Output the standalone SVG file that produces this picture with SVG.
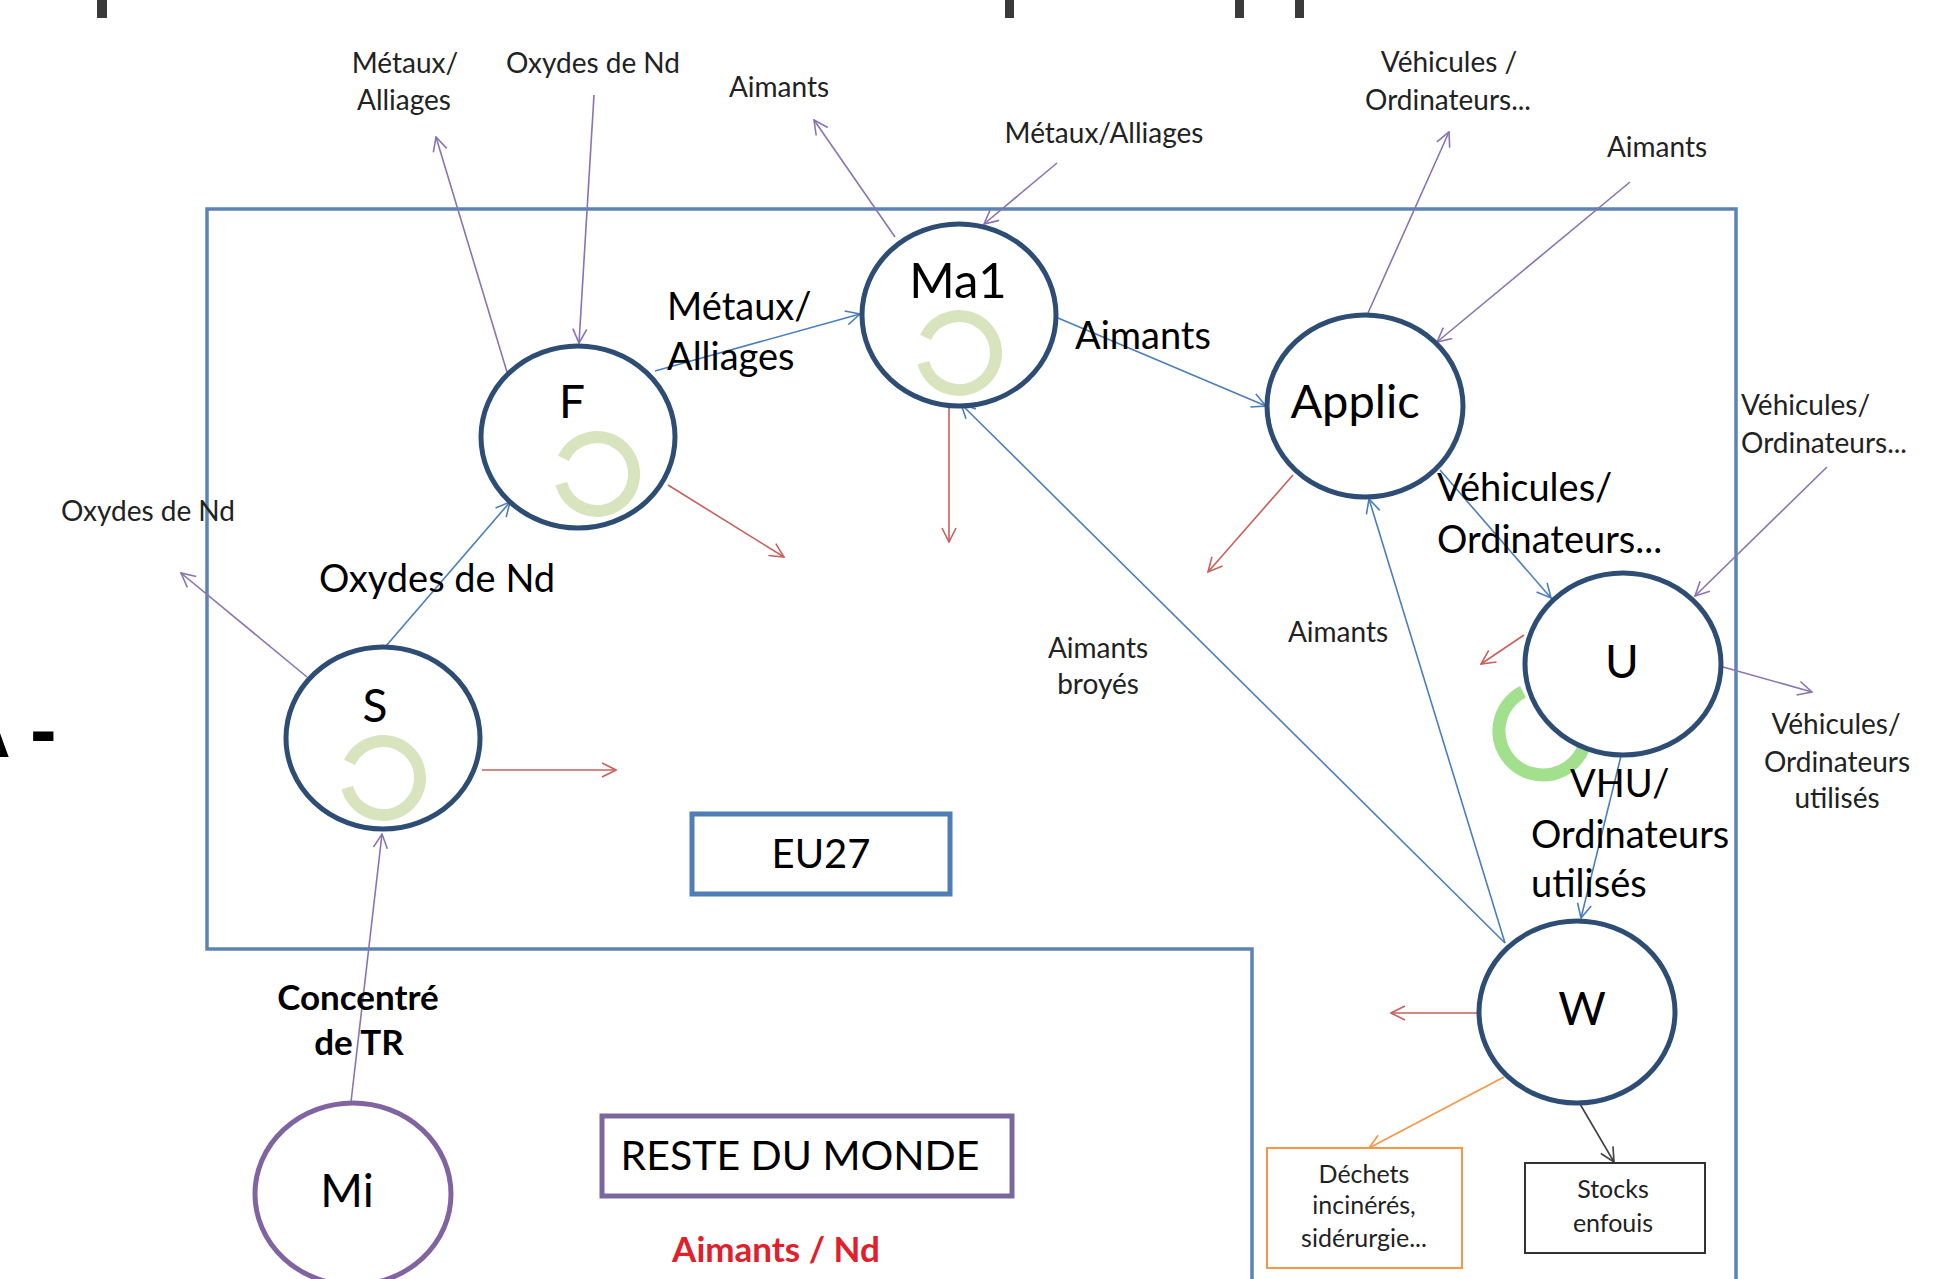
<svg xmlns="http://www.w3.org/2000/svg" width="1960" height="1279" viewBox="0 0 1960 1279">
<defs>
<style>
.node{fill:#fff;stroke:#2e4d74;stroke-width:5}
.mi{fill:#fff;stroke:#8064a2;stroke-width:5}
.lbl{font-family:Lato,"Open Sans",sans-serif;fill:#000}
.big{font-size:38px}
.nl{font-size:46px}
.sm{font-size:28px;fill:#222}
.xs{font-size:25px;fill:#222}
.c{text-anchor:middle}
.cb{fill:none;stroke:#4a7ebb;stroke-width:1.6;marker-end:url(#ab)}
.cp{fill:none;stroke:#8a74b0;stroke-width:1.6;marker-end:url(#ap)}
.cr{fill:none;stroke:#c8605c;stroke-width:1.6;marker-end:url(#ar)}
.co{fill:none;stroke:#f79646;stroke-width:1.6;marker-end:url(#ao)}
.cg{fill:none;stroke:#404040;stroke-width:1.6;marker-end:url(#ag)}
.loop{fill:none;stroke:#d7e4bd;stroke-width:12}
</style>
<marker id="ab" viewBox="0 0 16 16" refX="15" refY="8" markerWidth="16" markerHeight="16" markerUnits="userSpaceOnUse" orient="auto"><path d="M1,1 L15,8 L1,15" fill="none" stroke="#4a7ebb" stroke-width="1.6"/></marker>
<marker id="ap" viewBox="0 0 16 16" refX="15" refY="8" markerWidth="16" markerHeight="16" markerUnits="userSpaceOnUse" orient="auto"><path d="M1,1 L15,8 L1,15" fill="none" stroke="#8a74b0" stroke-width="1.6"/></marker>
<marker id="ar" viewBox="0 0 16 16" refX="15" refY="8" markerWidth="16" markerHeight="16" markerUnits="userSpaceOnUse" orient="auto"><path d="M1,1 L15,8 L1,15" fill="none" stroke="#c8605c" stroke-width="1.6"/></marker>
<marker id="ao" viewBox="0 0 16 16" refX="15" refY="8" markerWidth="16" markerHeight="16" markerUnits="userSpaceOnUse" orient="auto"><path d="M1,1 L15,8 L1,15" fill="none" stroke="#f79646" stroke-width="1.6"/></marker>
<marker id="ag" viewBox="0 0 16 16" refX="15" refY="8" markerWidth="16" markerHeight="16" markerUnits="userSpaceOnUse" orient="auto"><path d="M1,1 L15,8 L1,15" fill="none" stroke="#404040" stroke-width="1.6"/></marker>
</defs>
<rect width="1960" height="1279" fill="#fff"/>

<!-- cropped fragments -->
<g id="fragments" fill="#3a3a3a">
<rect x="97" y="0" width="10" height="18"/>
<rect x="1005" y="0" width="9" height="18"/>
<rect x="1235" y="0" width="9" height="18"/>
<rect x="1295" y="0" width="9" height="18"/>
<text x="-47" y="757" font-family="Liberation Sans,sans-serif" font-weight="bold" font-size="80" fill="#000">A -</text>
</g>

<!-- region boundaries -->
<g id="regions">
<path d="M1252,1282 L1252,949 L207,949 L207,209 L1736,209 L1736,1282" fill="none" stroke="#5b84b4" stroke-width="3.5"/>
<g id="eu27"><rect x="692" y="814" width="258" height="80" fill="#fff" stroke="#4f7db5" stroke-width="5"/>
<text class="lbl c" x="821" y="868" font-size="40">EU27</text></g>
<g id="rdm"><rect x="602" y="1116" width="410" height="80" fill="#fff" stroke="#7c66a0" stroke-width="5"/>
<text class="lbl c" x="800" y="1170" font-size="41">RESTE DU MONDE</text></g>
<text class="lbl c" x="776" y="1262" font-size="35" font-weight="bold" style="fill:#e0202a">Aimants / Nd</text>
</g>

<!-- U loop behind U node -->
<path d="M1584,746.8 A44,44 0 1 1 1523,691.8" fill="none" stroke="#a3e08d" stroke-width="13"/>

<!-- connectors -->
<g id="connectors">
<line class="cp" x1="351" y1="1102" x2="382" y2="834"/>
<line class="cp" x1="307" y1="677" x2="181" y2="573"/>
<line class="cb" x1="386" y1="646" x2="510" y2="502"/>
<line class="cr" x1="482" y1="770" x2="616" y2="770"/>
<line class="cp" x1="507" y1="372" x2="436" y2="137"/>
<line class="cp" x1="594" y1="95" x2="579" y2="343"/>
<line class="cb" x1="655" y1="371" x2="860" y2="314"/>
<line class="cr" x1="668" y1="485" x2="784" y2="557"/>
<line class="cp" x1="895" y1="237" x2="814" y2="120"/>
<line class="cp" x1="1057" y1="163" x2="984" y2="224"/>
<line class="cr" x1="949" y1="408" x2="949" y2="542"/>
<line class="cb" x1="1058" y1="318" x2="1266" y2="406"/>
<line class="cp" x1="1368" y1="313" x2="1449" y2="132"/>
<line class="cp" x1="1630" y1="182" x2="1437" y2="342"/>
<line class="cr" x1="1293" y1="475" x2="1208" y2="572"/>
<line class="cb" x1="1440" y1="470" x2="1551" y2="598"/>
<line class="cp" x1="1827" y1="467" x2="1695" y2="596"/>
<line class="cr" x1="1524" y1="635" x2="1481" y2="664"/>
<line class="cp" x1="1723" y1="667" x2="1812" y2="692"/>
<line class="cb" x1="1621" y1="756" x2="1581" y2="918"/>
<line class="cb" x1="1505" y1="943" x2="961" y2="404"/>
<line class="cb" x1="1505" y1="943" x2="1369" y2="499"/>
<line class="cr" x1="1478" y1="1013" x2="1391" y2="1013"/>
<line class="co" x1="1504" y1="1077" x2="1369" y2="1148"/>
<line class="cg" x1="1580" y1="1104" x2="1614" y2="1162"/>
</g>

<!-- nodes -->
<g id="node-S"><ellipse class="node" cx="383" cy="738" rx="97" ry="91"/>
<path class="loop" d="M349.5,762.4 A37,37 0 1 1 347.3,787.6"/>
<text class="lbl nl c" x="375" y="722">S</text></g>
<g id="node-F"><ellipse class="node" cx="578" cy="437" rx="97" ry="91"/>
<path class="loop" d="M563.5,458.4 A37,37 0 1 1 561.3,483.6"/>
<text class="lbl nl c" x="572" y="418">F</text></g>
<g id="node-Ma1"><ellipse class="node" cx="959" cy="315" rx="97" ry="91"/>
<path class="loop" d="M925.5,337.4 A37,37 0 1 1 923.3,362.6"/>
<text class="lbl c" x="958" y="298" font-size="49">Ma1</text></g>
<g id="node-Applic"><ellipse class="node" cx="1365" cy="406" rx="98" ry="91"/>
<text class="lbl c" x="1355" y="418" font-size="47">Applic</text></g>
<g id="node-U"><ellipse class="node" cx="1623" cy="664" rx="98" ry="91"/>
<text class="lbl c" x="1622" y="678" font-size="46">U</text></g>
<g id="node-W"><ellipse class="node" cx="1577" cy="1012" rx="98" ry="91"/>
<text class="lbl c" x="1582" y="1025" font-size="46">W</text></g>
<g id="node-Mi"><ellipse class="mi" cx="353" cy="1194" rx="98" ry="91"/>
<text class="lbl c" x="347" y="1207" font-size="46">Mi</text></g>
<g id="node-dechets"><rect x="1267" y="1148" width="195" height="120" fill="#fff" stroke="#f79646" stroke-width="2"/>
<text class="lbl xs c" x="1364" y="1183">Déchets</text>
<text class="lbl xs c" x="1364" y="1214">incinérés,</text>
<text class="lbl xs c" x="1364" y="1247">sidérurgie...</text></g>
<g id="node-stocks"><rect x="1525" y="1163" width="180" height="90" fill="#fff" stroke="#333" stroke-width="2"/>
<text class="lbl xs c" x="1613" y="1198">Stocks</text>
<text class="lbl xs c" x="1613" y="1232">enfouis</text></g>

<!-- labels -->
<g id="labels">
<text class="lbl sm c" x="405" y="73">Métaux/</text>
<text class="lbl sm c" x="404" y="110">Alliages</text>
<text class="lbl sm c" x="593" y="73">Oxydes de Nd</text>
<text class="lbl sm c" x="779" y="97">Aimants</text>
<text class="lbl sm c" x="1104" y="143">Métaux/Alliages</text>
<text class="lbl sm c" x="1449" y="72">Véhicules /</text>
<text class="lbl sm c" x="1448" y="110">Ordinateurs...</text>
<text class="lbl sm c" x="1657" y="157">Aimants</text>
<text class="lbl sm" x="1741" y="415">Véhicules/</text>
<text class="lbl sm" x="1741" y="453">Ordinateurs...</text>
<text class="lbl sm c" x="148" y="521">Oxydes de Nd</text>
<text class="lbl sm c" x="1098" y="658">Aimants</text>
<text class="lbl sm c" x="1098" y="694">broyés</text>
<text class="lbl sm c" x="1338" y="642">Aimants</text>
<text class="lbl sm c" x="1836" y="734">Véhicules/</text>
<text class="lbl sm c" x="1837" y="772">Ordinateurs</text>
<text class="lbl sm c" x="1837" y="808">utilisés</text>
<text class="lbl big" x="319" y="592">Oxydes de Nd</text>
<text class="lbl big" x="667" y="320">Métaux/</text>
<text class="lbl big" x="667" y="370">Alliages</text>
<text class="lbl big" x="1075" y="349">Aimants</text>
<text class="lbl big" x="1437" y="501">Véhicules/</text>
<text class="lbl big" x="1437" y="553">Ordinateurs...</text>
<text class="lbl big" x="1570" y="797">VHU/</text>
<text class="lbl big" x="1531" y="848">Ordinateurs</text>
<text class="lbl big" x="1531" y="897">utilisés</text>
<text class="lbl c" x="358" y="1010" font-size="35" font-weight="bold">Concentré</text>
<text class="lbl c" x="359" y="1055" font-size="35" font-weight="bold">de TR</text>
</g>
</svg>
